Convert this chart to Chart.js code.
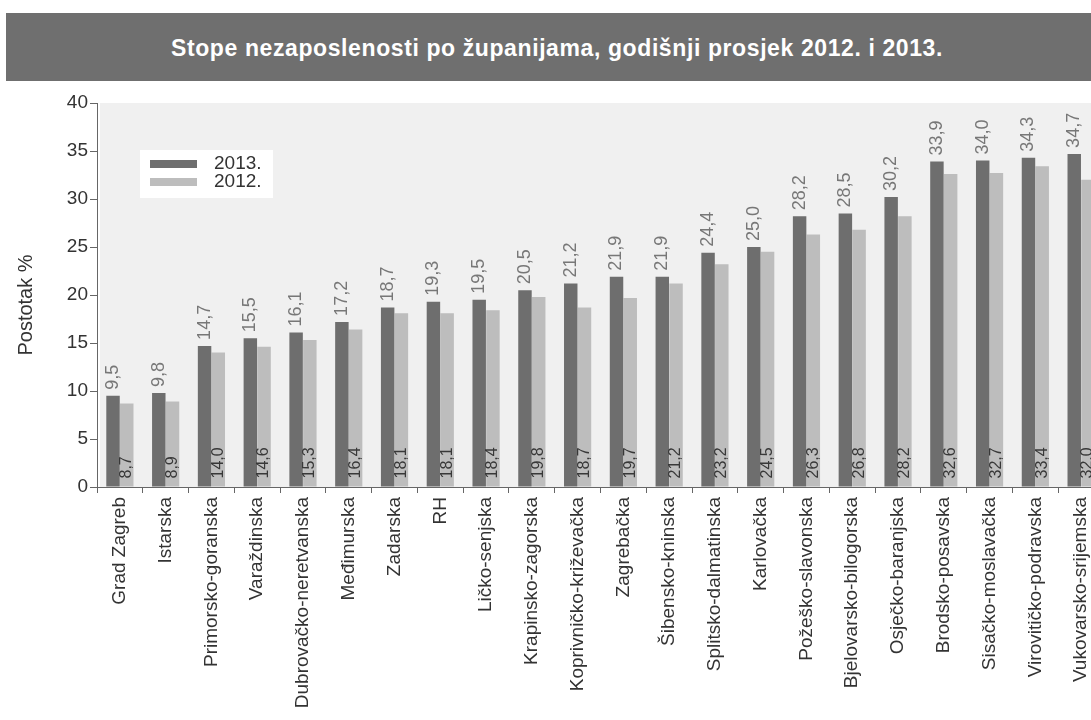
<!DOCTYPE html>
<html>
<head>
<meta charset="utf-8">
<script src="https://cdn.jsdelivr.net/npm/chart.js@4/dist/chart.umd.min.js"></script>
<style>
  html, body { margin: 0; padding: 0; background: #ffffff; overflow: hidden; }
  #wrap { position: relative; width: 1091px; height: 720px; overflow: hidden; }
  #titleBar {
    position: absolute; left: 6px; top: 13px; width: 1102px; height: 68px;
    background: #6f6f6f; color: #ffffff; text-align: center;
    font: bold 23px "Liberation Sans", Arial, sans-serif; line-height: 70px;
    letter-spacing: 0.6px;
  }
  #chartBox { position: absolute; left: 0; top: 0; width: 1110px; height: 720px; }
</style>
</head>
<body>
<div id="wrap">
  <div id="chartBox"><canvas id="c" width="1110" height="720"></canvas></div>
  <div id="titleBar">Stope nezaposlenosti po županijama, godišnji prosjek 2012. i 2013.</div>
</div>
<script>
/* ---------- podaci ---------- */
var COUNTIES = [
  "Grad Zagreb", "Istarska", "Primorsko-goranska", "Varaždinska",
  "Dubrovačko-neretvanska", "Međimurska", "Zadarska", "RH",
  "Ličko-senjska", "Krapinsko-zagorska", "Koprivničko-križevačka",
  "Zagrebačka", "Šibensko-kninska", "Splitsko-dalmatinska", "Karlovačka",
  "Požeško-slavonska", "Bjelovarsko-bilogorska", "Osječko-baranjska",
  "Brodsko-posavska", "Sisačko-moslavačka", "Virovitičko-podravska",
  "Vukovarsko-srijemska"
];
var RATE_2013 = [9.5, 9.8, 14.7, 15.5, 16.1, 17.2, 18.7, 19.3, 19.5, 20.5, 21.2,
                 21.9, 21.9, 24.4, 25.0, 28.2, 28.5, 30.2, 33.9, 34.0, 34.3, 34.7];
var RATE_2012 = [8.7, 8.9, 14.0, 14.6, 15.3, 16.4, 18.1, 18.1, 18.4, 19.8, 18.7,
                 19.7, 21.2, 23.2, 24.5, 26.3, 26.8, 28.2, 32.6, 32.7, 33.4, 32.0];
var SERIES_NAMES = ["2013.", "2012."];
var Y_TICKS = [0, 5, 10, 15, 20, 25, 30, 35, 40];

var FONT = '"Liberation Sans", Arial, sans-serif';

function fmt(v) {
  return v.toFixed(1).replace(".", ",");
}

/* ---------- pozadina i oznake ---------- */
var decorPlugin = {
  id: "decor",
  beforeDraw: function (chart) {
    var a = chart.chartArea;
    var ctx = chart.ctx;
    ctx.save();
    ctx.fillStyle = "#f0f0f0";
    ctx.fillRect(a.left + 3, a.top, a.right - a.left, a.bottom - a.top);
    ctx.restore();
  },
  afterDatasetsDraw: function (chart) {
    var ctx = chart.ctx;
    ctx.save();
    chart.data.datasets.forEach(function (ds, i) {
      var meta = chart.getDatasetMeta(i);
      meta.data.forEach(function (bar, j) {
        ctx.save();
        if (i === 0) {
          ctx.translate(bar.x, bar.y - 6);
          ctx.font = "18px " + FONT;
          ctx.fillStyle = "#777777";
        } else {
          ctx.translate(bar.x, bar.base - 8);
          ctx.font = "16px " + FONT;
          ctx.fillStyle = "#383838";
        }
        ctx.rotate(-Math.PI / 2);
        ctx.textAlign = "left";
        ctx.textBaseline = "middle";
        ctx.fillText(fmt(ds.data[j]), 0, 0);
        ctx.restore();
      });
    });
    ctx.restore();
  },
  afterDraw: function (chart) {
    var ctx = chart.ctx;
    ctx.save();
    /* legenda */
    ctx.fillStyle = "#ffffff";
    ctx.fillRect(140, 150, 133, 48);
    chart.data.datasets.forEach(function (ds, i) {
      var y = 164 + i * 18;
      ctx.fillStyle = ds.backgroundColor;
      ctx.fillRect(150, y - 4, 47, 8);
      ctx.fillStyle = "#333333";
      ctx.font = "19px " + FONT;
      ctx.textAlign = "left";
      ctx.textBaseline = "middle";
      ctx.fillText(ds.label, 214, y);
    });
    /* naslov osi y */
    ctx.translate(26, 305);
    ctx.rotate(-Math.PI / 2);
    ctx.fillStyle = "#333333";
    ctx.font = "20px " + FONT;
    ctx.textAlign = "center";
    ctx.textBaseline = "middle";
    ctx.fillText("Postotak %", 0, 0);
    ctx.restore();
  }
};

new Chart(document.getElementById("c").getContext("2d"), {
  type: "bar",
  data: {
    labels: COUNTIES,
    datasets: [
      {
        label: SERIES_NAMES[0],
        data: RATE_2013,
        backgroundColor: "#6e6e6e",
        categoryPercentage: 0.6,
        barPercentage: 0.98
      },
      {
        label: SERIES_NAMES[1],
        data: RATE_2012,
        backgroundColor: "#bdbdbd",
        categoryPercentage: 0.6,
        barPercentage: 0.98
      }
    ]
  },
  options: {
    responsive: false,
    animation: false,
    devicePixelRatio: 1,
    layout: { padding: { top: 103, right: 6, left: 0, bottom: 0 } },
    scales: {
      x: {
        afterFit: function (s) { s.height = 233; },
        grid: {
          offset: true,
          drawOnChartArea: false,
          tickLength: 6,
          color: "#666666"
        },
        border: { color: "#666666", width: 1 },
        ticks: {
          autoSkip: false,
          minRotation: 90,
          maxRotation: 90,
          padding: 4,
          color: "#333333",
          font: { size: 19, family: FONT }
        }
      },
      y: {
        min: 0,
        max: 40,
        afterFit: function (s) { s.width = 97; },
        afterBuildTicks: function (s) {
          s.ticks = Y_TICKS.map(function (v) { return { value: v }; });
        },
        grid: {
          drawOnChartArea: false,
          tickLength: 7,
          color: "#666666"
        },
        border: { color: "#666666", width: 1 },
        ticks: {
          padding: 2,
          color: "#333333",
          font: { size: 19, family: FONT }
        }
      }
    },
    plugins: {
      legend: { display: false },
      tooltip: { enabled: false }
    }
  },
  plugins: [decorPlugin]
});
</script>
</body>
</html>
